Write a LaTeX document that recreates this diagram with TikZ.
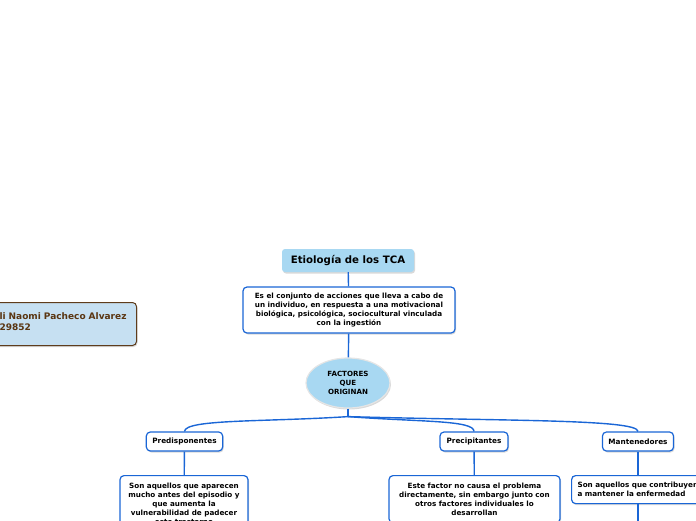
\documentclass[tikz,border=0pt]{standalone}
\usepackage{fontspec}
\setmainfont{DejaVu Sans}
\usetikzlibrary{shapes.geometric,shadows,calc}
\definecolor{tcablue}{HTML}{1A66D6}
\definecolor{tcafill}{HTML}{A8D8F2}
\definecolor{authfill}{HTML}{C6E0F2}
\definecolor{authline}{HTML}{5E3C1C}
\definecolor{authtext}{HTML}{5A3511}
\tikzset{
  shd/.style={drop shadow={opacity=0.3,shadow xshift=1pt,shadow yshift=-1.5pt}},
  link/.style={draw=tcablue,line width=1.4pt},
  titlebox/.style={rounded corners=3pt,fill=tcafill,shd,minimum width=132pt,minimum height=23pt,font=\bfseries\fontsize{10.2}{12}\selectfont},
  descbox/.style={draw=tcablue,line width=1.2pt,rounded corners=4pt,fill=white,shd,align=center,inner sep=4pt,font=\bfseries\fontsize{7.2}{8.9}\selectfont},
  kindbox/.style={descbox,minimum height=19pt,minimum width=68pt,inner xsep=6pt,font=\bfseries\fontsize{7.3}{9}\selectfont},
  factbox/.style={ellipse,draw=gray!20,line width=1.2pt,fill=tcafill,shd,minimum width=84pt,minimum height=50pt,align=center,inner sep=0pt,font=\bfseries\fontsize{7.1}{8.8}\selectfont},
  authbox/.style={draw=authline,line width=1pt,rounded corners=4pt,fill=authfill,shd,align=left,text=authtext,inner sep=5pt,font=\bfseries\fontsize{9}{11}\selectfont}
}
\begin{document}
\begin{tikzpicture}[x=1pt,y=-1pt]
\useasboundingbox (0,0) rectangle (696,520);
\clip (0,0) rectangle (696,520);
% author
\node[authbox,anchor=north east,text width=132pt,minimum height=43pt,text depth=15pt] (auth) at (137,302) {li Naomi Pacheco Alvarez\\29852};
% central topic
\node[titlebox] (title) at (348,260.5) {Etiología de los TCA};
\node[descbox,minimum width=212pt,minimum height=46pt] (desc) at (349,310) {Es el conjunto de acciones que lleva a cabo de\\un individuo, en respuesta a una motivacional\\biológica, psicológica, sociocultural vinculada\\con la ingestión};
\node[factbox] (fac) at (348,383) {FACTORES\\QUE\\ORIGINAN};
% three kinds of factors
\node[kindbox] (pre) at (184.5,441.5) {Predisponentes};
\node[kindbox] (prec) at (474,441.5) {Precipitantes};
\node[kindbox] (man) at (638,441.5) {Mantenedores};
\node[descbox,anchor=north,minimum width=128pt,inner ysep=7.5pt] (pred) at (184,475) {Son aquellos que aparecen\\mucho antes del episodio y\\que aumenta la\\vulnerabilidad de padecer\\este trastorno};
\node[descbox,anchor=north,minimum width=171pt,inner ysep=7.5pt] (precd) at (474.5,475) {Este factor no causa el problema\\directamente, sin embargo junto con\\otros factores individuales lo\\desarrollan};
\node[descbox,anchor=north west,align=left,text width=124pt,inner xsep=6pt,minimum height=28pt] (mand) at (571,475) {Son aquellos que contribuyen\\a mantener la enfermedad};
% links
\draw[link] (title) -- (desc);
\draw[link] (desc) -- (fac);
\coordinate (hub) at ($(fac.south)+(0,8)$);
\draw[link] (fac.south) -- (hub);
\draw[link] (hub) .. controls (265,422) and (185,419) .. (pre.north);
\draw[link] (hub) .. controls (420,422) and (474,420) .. (prec.north);
\draw[link] (hub) .. controls (500,421) and (638,419) .. (man.north);
\draw[link] (pre) -- (pred);
\draw[link] (prec) -- (precd);
\draw[link] (man) -- (man |- mand.north);
\coordinate (mend) at (638,530);
\draw[link] (mand.south -| man) -- (mend);
\end{tikzpicture}
\end{document}
